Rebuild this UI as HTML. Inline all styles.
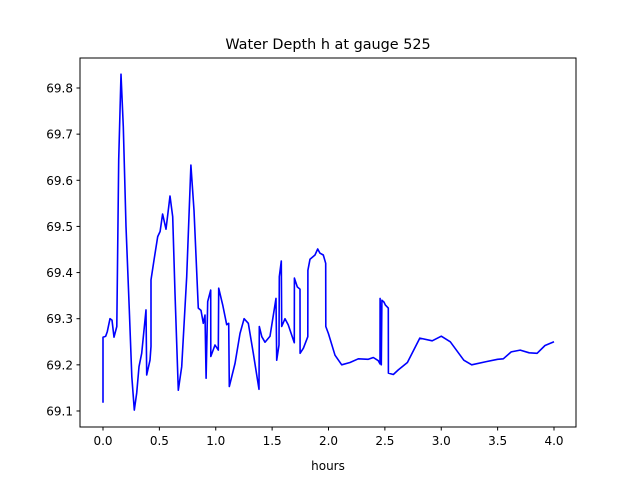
<!DOCTYPE html>
<html><head><meta charset="utf-8"><style>
body{margin:0;background:#fff;font-family:"Liberation Sans","DejaVu Sans",sans-serif}
svg text{font-family:"DejaVu Sans","Liberation Sans",sans-serif;font-size:12px;fill:#000}
</style></head><body>
<svg id="chart" width="640" height="480">
<rect width="640" height="480" fill="#fff"/>
<text x="328" y="49" text-anchor="middle" style="font-size:14.4px">Water Depth h at gauge 525</text>
<g id="ticks"></g>
<polyline id="line" fill="none" stroke="#0000ff" stroke-width="1.6" stroke-linejoin="round"/>
<rect x="80" y="58" width="496" height="369" fill="none" stroke="#000" stroke-width="1"/>
<text x="328" y="470" text-anchor="middle">hours</text>
</svg>
<script>
const times=[0,0,0.024,0.038,0.062,0.080,0.098,0.122,0.139,0.160,0.180,0.204,0.233,0.255,0.278,0.299,0.319,0.343,0.381,0.388,0.417,0.426,0.426,0.452,0.485,0.506,0.529,0.559,0.594,0.618,0.639,0.668,0.698,0.742,0.780,0.807,0.845,0.869,0.890,0.905,0.914,0.929,0.955,0.956,0.993,1.023,1.026,1.062,1.097,1.115,1.120,1.171,1.215,1.251,1.289,1.333,1.384,1.386,1.408,1.437,1.481,1.534,1.541,1.561,1.564,1.581,1.585,1.614,1.643,1.697,1.698,1.723,1.747,1.748,1.777,1.816,1.817,1.836,1.880,1.904,1.925,1.954,1.975,1.976,1.999,2.058,2.117,2.191,2.264,2.353,2.397,2.442,2.457,2.458,2.468,2.474,2.492,2.504,2.530,2.531,2.575,2.619,2.70,2.81,2.92,3.0,3.08,3.2,3.27,3.4,3.5,3.55,3.62,3.7,3.78,3.85,3.92,4.0];
const depths=[69.118,69.26,69.262,69.272,69.30,69.297,69.26,69.283,69.644,69.83,69.716,69.50,69.319,69.175,69.102,69.139,69.196,69.225,69.319,69.178,69.21,69.24,69.384,69.427,69.478,69.489,69.527,69.494,69.566,69.521,69.355,69.145,69.196,69.391,69.633,69.535,69.323,69.318,69.29,69.308,69.171,69.337,69.362,69.218,69.243,69.232,69.366,69.33,69.287,69.29,69.153,69.203,69.268,69.30,69.29,69.225,69.147,69.283,69.261,69.249,69.262,69.344,69.21,69.243,69.391,69.425,69.283,69.30,69.287,69.248,69.388,69.369,69.364,69.225,69.236,69.261,69.405,69.429,69.438,69.451,69.442,69.438,69.420,69.283,69.268,69.221,69.20,69.205,69.213,69.212,69.216,69.209,69.202,69.344,69.20,69.34,69.336,69.33,69.323,69.182,69.179,69.189,69.205,69.258,69.252,69.262,69.25,69.21,69.20,69.207,69.212,69.213,69.228,69.232,69.226,69.225,69.242,69.25];
const xTicks=[0,0.5,1.0,1.5,2.0,2.5,3.0,3.5,4.0];
const yTicks=[69.1,69.2,69.3,69.4,69.5,69.6,69.7,69.8];
const X=t=>103+t*112.75;
const Y=v=>88+(69.8-v)*461.4;
document.getElementById('line').setAttribute('points',times.map((t,i)=>X(t).toFixed(1)+','+Y(depths[i]).toFixed(1)).join(' '));
const g=document.getElementById('ticks');const NS='http://www.w3.org/2000/svg';
xTicks.forEach(t=>{
 const l=document.createElementNS(NS,'line');
 
 
 l.setAttribute('x1',X(t));l.setAttribute('x2',X(t));l.setAttribute('y1',427);l.setAttribute('y2',430.5);l.setAttribute('stroke','#000');g.appendChild(l);
 const s=document.createElementNS(NS,'text');
 
 
 s.setAttribute('x',X(t));s.setAttribute('y',445);s.setAttribute('text-anchor','middle');s.textContent=t.toFixed(1);g.appendChild(s);
});
yTicks.forEach(v=>{
 const l=document.createElementNS(NS,'line');
 
 
 l.setAttribute('x1',76.5);l.setAttribute('x2',80);l.setAttribute('y1',Y(v));l.setAttribute('y2',Y(v));l.setAttribute('stroke','#000');g.appendChild(l);
 const s=document.createElementNS(NS,'text');
 
 
 s.setAttribute('x',73);s.setAttribute('y',Y(v)+4.5);s.setAttribute('text-anchor','end');s.textContent=v.toFixed(1);g.appendChild(s);
});
</script>
</body></html>
